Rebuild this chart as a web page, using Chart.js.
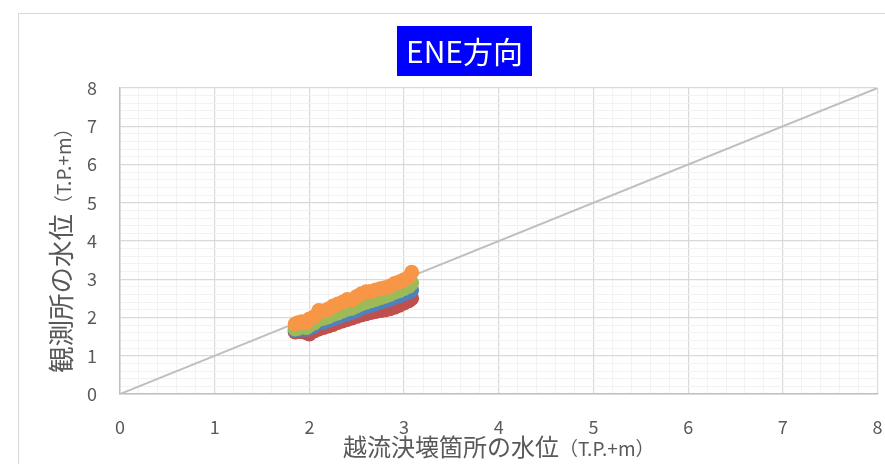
<!DOCTYPE html>
<html>
<head>
<meta charset="utf-8">
<script src="https://cdn.jsdelivr.net/npm/chart.js@4/dist/chart.umd.min.js"></script>
<style>
  html, body { margin: 0; padding: 0; background: #fff; }
  #wrap { width: 885px; height: 464px; position: relative; }
</style>
</head>
<body>
<div id="wrap"><canvas id="chart"></canvas></div>
<script>
const chartTitle = 'ENE方向';
const xTitle = '越流決壊箇所の水位';
const yTitle = '観測所の水位';
const unitText = '（T.P.+m）';

const xTicks = [0, 1, 2, 3, 4, 5, 6, 7, 8];
const yTicks = [0, 1, 2, 3, 4, 5, 6, 7, 8];

// 越流決壊箇所の水位
const xValues = [1.85, 1.88, 1.92, 1.97, 2.00, 2.05, 2.10, 2.15, 2.20, 2.25, 2.30, 2.35, 2.40, 2.45,
                 2.50, 2.55, 2.60, 2.65, 2.70, 2.75, 2.80, 2.85, 2.90, 2.95, 3.00, 3.05, 3.08];

// 観測所の水位 (series)
const seriesBlue = [1.66, 1.68, 1.70, 1.69, 1.74, 1.78, 1.86, 1.88, 1.92, 1.97, 2.01, 2.06, 2.10, 2.13,
                    2.18, 2.24, 2.28, 2.32, 2.36, 2.40, 2.44, 2.48, 2.53, 2.57, 2.62, 2.67, 2.72];
const seriesRed = [1.62, 1.64, 1.63, 1.60, 1.57, 1.65, 1.70, 1.74, 1.78, 1.82, 1.87, 1.91, 1.95, 1.99,
                   2.03, 2.07, 2.10, 2.13, 2.16, 2.18, 2.20, 2.23, 2.27, 2.32, 2.38, 2.44, 2.50];
const seriesGreen = [1.70, 1.72, 1.75, 1.74, 1.80, 1.86, 1.95, 1.98, 2.02, 2.08, 2.12, 2.17, 2.22, 2.24,
                     2.30, 2.36, 2.40, 2.44, 2.48, 2.52, 2.56, 2.60, 2.66, 2.70, 2.76, 2.82, 2.90];
const seriesOrange = [1.83, 1.86, 1.89, 1.87, 1.96, 2.02, 2.18, 2.17, 2.22, 2.30, 2.35, 2.40, 2.47, 2.46,
                      2.55, 2.62, 2.67, 2.68, 2.72, 2.75, 2.78, 2.82, 2.89, 2.93, 2.99, 3.06, 3.18];

// y = x reference line
const lineX = [0, 8];
const lineY = [0, 8];

const toPoints = (xs, ys) => xs.map((x, i) => ({ x: x, y: ys[i] }));
const isMajor = v => Math.abs(v - Math.round(v)) < 1e-6;

const FONT = '"Noto Sans CJK JP", "Noto Sans", sans-serif';

const decorations = {
    id: 'decorations',
    beforeDraw(chart) {
        const c = chart.ctx;
        c.save();
        c.fillStyle = '#fff';
        c.fillRect(0, 0, chart.width, chart.height);
        c.strokeStyle = '#D9D9D9';
        c.lineWidth = 1;
        c.strokeRect(18.5, 13.5, 1000, 1000);
        c.restore();
    },
    afterDraw(chart) {
        const c = chart.ctx;
        c.save();

        // title box
        c.fillStyle = '#0000FF';
        c.fillRect(397, 26, 135, 50);
        c.fillStyle = '#fff';
        c.font = '30px ' + FONT;
        c.textAlign = 'center';
        c.textBaseline = 'middle';
        c.fillText(chartTitle, 464.5, 52);

        // x axis title
        c.fillStyle = '#595959';
        c.textBaseline = 'alphabetic';
        c.textAlign = 'left';
        c.font = '24px ' + FONT;
        const w1 = c.measureText(xTitle).width;
        c.fillText(xTitle, 343, 456);
        c.font = '19px ' + FONT;
        c.fillText(unitText, 343 + w1, 456);

        // y axis title
        c.translate(71, 373);
        c.rotate(-Math.PI / 2);
        c.font = '26.5px ' + FONT;
        const h1 = c.measureText(yTitle).width;
        c.fillText(yTitle, 0, 0);
        c.font = '19px ' + FONT;
        c.fillText(unitText, h1, 0);
        c.restore();
    }
};

const dot = (color, data, order) => ({
    type: 'scatter',
    data: toPoints(xValues, data),
    backgroundColor: color,
    borderColor: color,
    pointRadius: 7.5,
    pointHoverRadius: 7.5,
    borderWidth: 0,
    order: order
});

const minorTicks = s => {
    const t = [];
    for (let v = 0; v <= 40; v++) t.push({ value: v / 5 });
    s.ticks = t;
};

new Chart(document.getElementById('chart'), {
    data: {
        datasets: [
            {
                type: 'line',
                data: toPoints(lineX, lineY),
                borderColor: '#BFBFBF',
                borderWidth: 2,
                pointRadius: 0,
                fill: false,
                order: 10
            },
            dot('#C0504D', seriesRed, 4),
            dot('#4F81BD', seriesBlue, 3),
            dot('#9BBB59', seriesGreen, 2),
            dot('#F79646', seriesOrange, 1)
        ]
    },
    options: {
        responsive: true,
        maintainAspectRatio: false,
        animation: false,
        layout: { padding: { top: 88, right: 5, left: 0, bottom: 0 } },
        plugins: {
            legend: { display: false },
            tooltip: { enabled: false }
        },
        scales: {
            x: {
                type: 'linear',
                min: xTicks[0],
                max: xTicks[xTicks.length - 1],
                afterFit: s => { s.height = 70; s.paddingLeft = 0; s.paddingRight = 0; },
                afterBuildTicks: minorTicks,
                ticks: {
                    autoSkip: false,
                    maxRotation: 0,
                    padding: 22,
                    color: '#595959',
                    font: { family: FONT, size: 18 },
                    callback: v => (isMajor(v) && xTicks.includes(Math.round(v))) ? String(Math.round(v)) : ''
                },
                grid: {
                    drawTicks: false,
                    tickLength: 0,
                    color: ctx => isMajor(ctx.tick.value) ? '#D9D9D9' : '#F2F2F2',
                    lineWidth: ctx => isMajor(ctx.tick.value) ? 1.2 : 1
                },
                border: { color: '#BFBFBF', width: 1.5 }
            },
            y: {
                type: 'linear',
                min: yTicks[0],
                max: yTicks[yTicks.length - 1],
                afterFit: s => { s.width = 120; s.paddingTop = 0; s.paddingBottom = 0; },
                afterBuildTicks: minorTicks,
                ticks: {
                    autoSkip: false,
                    padding: 23,
                    color: '#595959',
                    font: { family: FONT, size: 18 },
                    callback: v => (isMajor(v) && yTicks.includes(Math.round(v))) ? String(Math.round(v)) : ''
                },
                grid: {
                    drawTicks: false,
                    tickLength: 0,
                    color: ctx => isMajor(ctx.tick.value) ? '#D9D9D9' : '#F2F2F2',
                    lineWidth: ctx => isMajor(ctx.tick.value) ? 1.2 : 1
                },
                border: { color: '#BFBFBF', width: 1.5 }
            }
        }
    },
    plugins: [decorations]
});
</script>
</body>
</html>
